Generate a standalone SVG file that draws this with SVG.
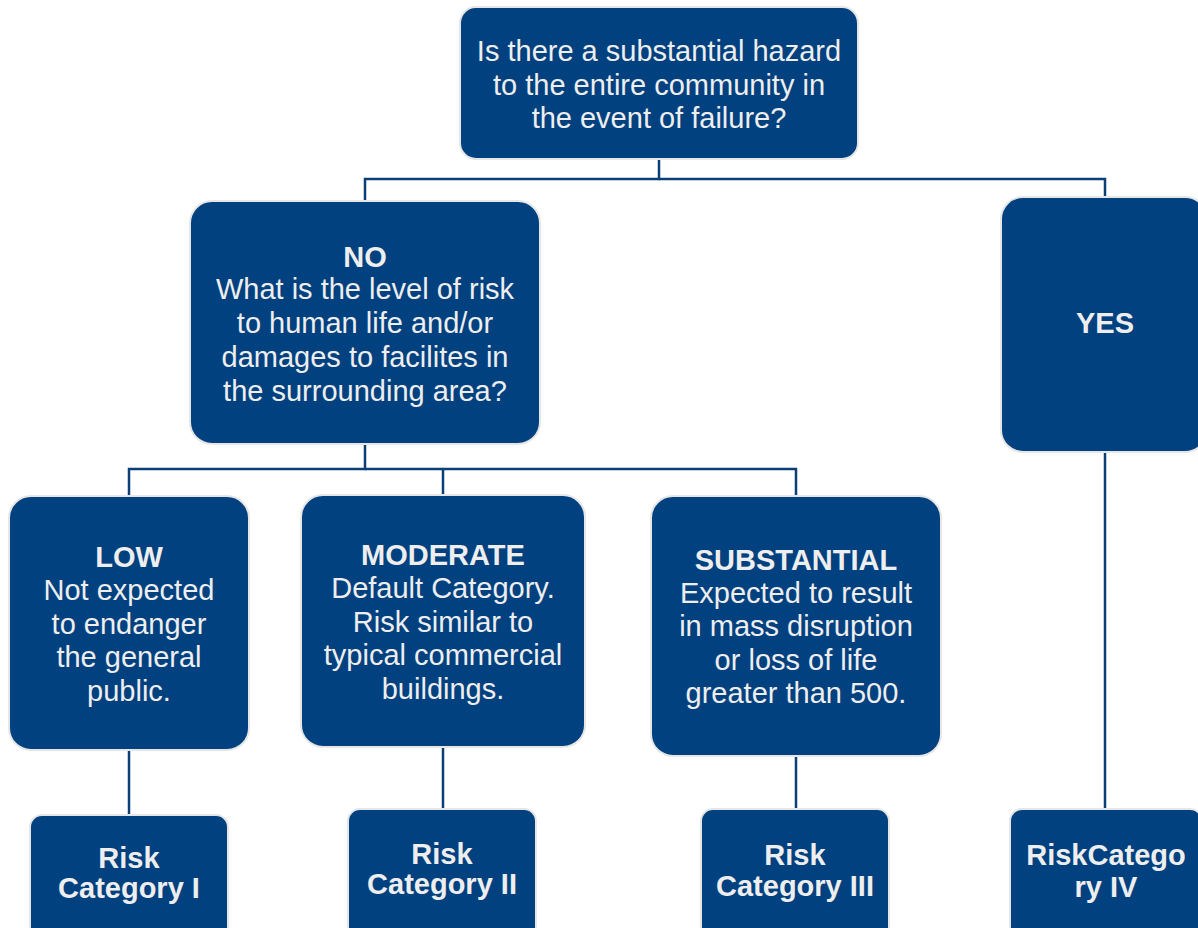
<svg xmlns="http://www.w3.org/2000/svg" width="1198" height="928" viewBox="0 0 1198 928">
<style>
.box{fill:#02417f;stroke:#e6e6e6;stroke-width:2}
.t{font-family:"Liberation Sans",Arial,sans-serif;font-size:29px;fill:#eeeeee;text-anchor:middle}
.b{font-weight:bold}
.c{fill:none;stroke:#0b3f77;stroke-width:2.5}
</style>
<rect width="1198" height="928" fill="#ffffff"/>
<g id="connectors">
<polyline class="c" points="659,159 659,179 365,179 365,202"/>
<polyline class="c" points="659,179 1105,179 1105,198"/>
<polyline class="c" points="365,444 365,469 129,469 129,497"/>
<polyline class="c" points="365,469 796,469 796,497"/>
<line class="c" x1="443" y1="469" x2="443" y2="496"/>
<line class="c" x1="129" y1="750" x2="129" y2="815"/>
<line class="c" x1="443" y1="747" x2="443" y2="809"/>
<line class="c" x1="796" y1="756" x2="796" y2="809"/>
<line class="c" x1="1105" y1="452" x2="1105" y2="809"/>
</g>
<g id="root">
<rect class="box" x="460" y="7" width="398" height="152" rx="16"/>
<text class="t" x="659" y="61">Is there a substantial hazard</text>
<text class="t" x="659" y="95">to the entire community in</text>
<text class="t" x="659" y="128">the event of failure?</text>
</g>
<g id="no">
<rect class="box" x="190" y="201" width="350" height="243" rx="22"/>
<text class="t b" x="365" y="267">NO</text>
<text class="t" x="365" y="299">What is the level of risk</text>
<text class="t" x="365" y="333">to human life and/or</text>
<text class="t" x="365" y="367">damages to facilites in</text>
<text class="t" x="365" y="401">the surrounding area?</text>
</g>
<g id="yes">
<rect class="box" x="1001" y="197" width="206" height="255" rx="22"/>
<text class="t b" x="1105" y="333">YES</text>
</g>
<g id="low">
<rect class="box" x="9" y="496" width="240" height="254" rx="22"/>
<text class="t b" x="129" y="567">LOW</text>
<text class="t" x="129" y="600">Not expected</text>
<text class="t" x="129" y="634">to endanger</text>
<text class="t" x="129" y="667">the general</text>
<text class="t" x="129" y="701">public.</text>
</g>
<g id="moderate">
<rect class="box" x="301" y="495" width="284" height="252" rx="22"/>
<text class="t b" x="443" y="565">MODERATE</text>
<text class="t" x="443" y="598">Default Category.</text>
<text class="t" x="443" y="632">Risk similar to</text>
<text class="t" x="443" y="665">typical commercial</text>
<text class="t" x="443" y="699">buildings.</text>
</g>
<g id="substantial">
<rect class="box" x="651" y="496" width="290" height="260" rx="22"/>
<text class="t b" x="796" y="570">SUBSTANTIAL</text>
<text class="t" x="796" y="603">Expected to result</text>
<text class="t" x="796" y="636">in mass disruption</text>
<text class="t" x="796" y="670">or loss of life</text>
<text class="t" x="796" y="703">greater than 500.</text>
</g>
<g id="cat1">
<rect class="box" x="30" y="815" width="198" height="130" rx="12"/>
<text class="t b" x="129" y="868">Risk</text>
<text class="t b" x="129" y="898">Category I</text>
</g>
<g id="cat2">
<rect class="box" x="348" y="809" width="188" height="136" rx="12"/>
<text class="t b" x="442" y="864">Risk</text>
<text class="t b" x="442" y="894">Category II</text>
</g>
<g id="cat3">
<rect class="box" x="701" y="809" width="188" height="136" rx="12"/>
<text class="t b" x="795" y="865">Risk</text>
<text class="t b" x="795" y="896">Category III</text>
</g>
<g id="cat4">
<rect class="box" x="1010" y="809" width="192" height="136" rx="12"/>
<text class="t b" x="1106" y="865">RiskCatego</text>
<text class="t b" x="1106" y="897">ry IV</text>
</g>
</svg>
